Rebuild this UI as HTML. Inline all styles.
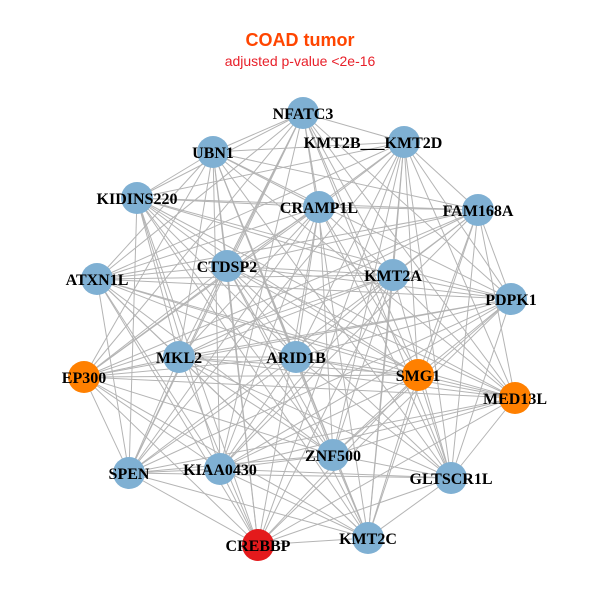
<!DOCTYPE html>
<html><head><meta charset="utf-8"><style>
html,body{margin:0;padding:0;background:#fff;width:600px;height:600px;overflow:hidden}
svg text{font-family:"Liberation Serif",serif;font-weight:bold;font-size:16px;fill:#000}
</style></head><body>
<svg id="s" width="600" height="600" xmlns="http://www.w3.org/2000/svg">
<rect width="600" height="600" fill="#fff"/>
<text x="300" y="46" text-anchor="middle" style="font-family:'Liberation Sans',sans-serif;font-size:18px;font-weight:bold;fill:#ff4500">COAD tumor</text>
<text x="300" y="66" text-anchor="middle" style="font-family:'Liberation Sans',sans-serif;font-size:14px;font-weight:normal;fill:#e8202a">adjusted p-value &lt;2e-16</text>
<g id="edges" stroke="#b4b4b4" stroke-width="1"></g>
<g id="nodes">
<circle cx="303" cy="113" r="16" fill="#7fb0d3"/>
<circle cx="404" cy="142" r="16" fill="#7fb0d3"/>
<circle cx="213" cy="152" r="16" fill="#7fb0d3"/>
<circle cx="137" cy="198" r="16" fill="#7fb0d3"/>
<circle cx="319" cy="207" r="16" fill="#7fb0d3"/>
<circle cx="478" cy="210" r="16" fill="#7fb0d3"/>
<circle cx="227" cy="266" r="16" fill="#7fb0d3"/>
<circle cx="393" cy="275" r="16" fill="#7fb0d3"/>
<circle cx="97" cy="279" r="16" fill="#7fb0d3"/>
<circle cx="511" cy="299" r="16" fill="#7fb0d3"/>
<circle cx="296" cy="357" r="16" fill="#7fb0d3"/>
<circle cx="179" cy="357" r="16" fill="#7fb0d3"/>
<circle cx="418" cy="375" r="16" fill="#ff8000"/>
<circle cx="84" cy="377" r="16" fill="#ff8000"/>
<circle cx="515" cy="398" r="16" fill="#ff8000"/>
<circle cx="333" cy="455" r="16" fill="#7fb0d3"/>
<circle cx="220" cy="469" r="16" fill="#7fb0d3"/>
<circle cx="129" cy="473" r="16" fill="#7fb0d3"/>
<circle cx="451" cy="478" r="16" fill="#7fb0d3"/>
<circle cx="368" cy="538" r="16" fill="#7fb0d3"/>
<circle cx="258" cy="545" r="16" fill="#e41a1c"/>
</g>
<g text-anchor="middle">
<text x="303" y="119">NFATC3</text>
<text x="373" y="148">KMT2B___KMT2D</text>
<text x="213" y="158">UBN1</text>
<text x="137" y="204">KIDINS220</text>
<text x="319" y="213">CRAMP1L</text>
<text x="478" y="216">FAM168A</text>
<text x="227" y="272">CTDSP2</text>
<text x="393" y="281">KMT2A</text>
<text x="97" y="285">ATXN1L</text>
<text x="511" y="305">PDPK1</text>
<text x="296" y="363">ARID1B</text>
<text x="179" y="363">MKL2</text>
<text x="418" y="381">SMG1</text>
<text x="84" y="383">EP300</text>
<text x="515" y="404">MED13L</text>
<text x="333" y="461">ZNF500</text>
<text x="220" y="475">KIAA0430</text>
<text x="129" y="479">SPEN</text>
<text x="451" y="484">GLTSCR1L</text>
<text x="368" y="544">KMT2C</text>
<text x="258" y="551">CREBBP</text>
</g>
</svg>
<script>
var c=document.querySelectorAll('#nodes circle'),g=document.getElementById('edges'),p=[];
c.forEach(function(e){p.push([+e.getAttribute('cx'),+e.getAttribute('cy')]);});
var n=p.length,h='';
for(var i=0;i<n;i++)for(var j=i+1;j<n;j++){if((i*7+j*3)%5==0)continue;
h+='<line x1="'+p[i][0]+'" y1="'+p[i][1]+'" x2="'+p[j][0]+'" y2="'+p[j][1]+'"/>';}
g.innerHTML=h;
</script>
</body></html>
